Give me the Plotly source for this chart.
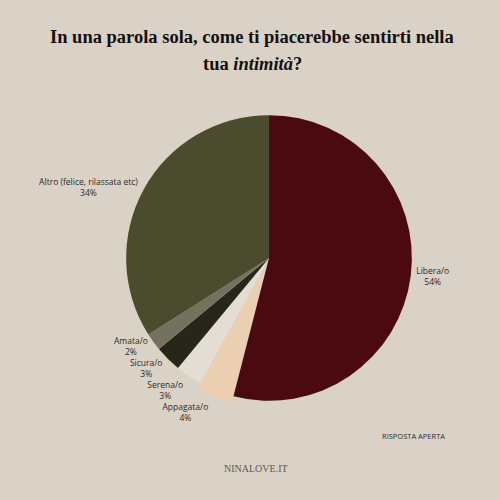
import plotly.graph_objects as go

labels = ["Libera/o", "Appagata/o", "Serena/o", "Sicura/o", "Amata/o", "Altro (felice, rilassata etc)"]
values = [54, 4, 3, 3, 2, 34]
colors = ["#4a0a10", "#ebcfb0", "#e4ddd4", "#26271a", "#71735f", "#4a4c2d"]
pulls = [0, 0.05, 0, 0, 0, 0]

title_lines = ["<b>In una parola sola, come ti piacerebbe sentirti nella</b>",
               "<b>tua <i>intimità</i>?</b>"]

bg = "#dad2c7"
W = H = 500


def px(x, y):
    # pixel position (from top-left) -> paper coords
    return x / W, 1 - y / H


fig = go.Figure(
    go.Pie(
        labels=labels,
        values=values,
        sort=False,
        direction="clockwise",
        rotation=0,
        pull=pulls,
        marker=dict(colors=colors, line=dict(width=0)),
        textinfo="label+percent",
        textposition="outside",
        outsidetextfont=dict(family="Open Sans", size=8.5, color="#2e2a28"),
        showlegend=False,
        domain=dict(x=[0.238, 0.838], y=[0.184, 0.784]),
        hoverinfo="skip",
    )
)

for line, y in zip(title_lines, [37, 64]):
    x0, y0 = px(252, y)
    fig.add_annotation(
        text=line, x=x0, y=y0, xref="paper", yref="paper",
        xanchor="center", yanchor="middle", showarrow=False,
        font=dict(family="Liberation Serif", size=18.5, color="#141110"),
    )

x0, y0 = px(413, 436)
fig.add_annotation(
    text="RISPOSTA APERTA", x=x0, y=y0, xref="paper", yref="paper",
    xanchor="center", yanchor="middle", showarrow=False,
    font=dict(family="Open Sans", size=7.5, color="#2e2a28"),
)
x0, y0 = px(256, 468)
fig.add_annotation(
    text="NINALOVE.IT", x=x0, y=y0, xref="paper", yref="paper",
    xanchor="center", yanchor="middle", showarrow=False,
    font=dict(family="Liberation Serif", size=10, color="#5e5752"),
)

fig.update_layout(
    width=W, height=H,
    margin=dict(l=0, r=0, t=0, b=0),
    paper_bgcolor=bg, plot_bgcolor=bg,
)

# no page margin, and no leader lines next to the outside labels
fig.write_html(
    "out.html",
    config={"displayModeBar": False},
    post_script=(
        "document.body.style.margin='0';"
        "document.body.style.background='" + bg + "';"
        "document.querySelectorAll('path.textline').forEach(function(e){e.style.display='none';});"
    ),
)
